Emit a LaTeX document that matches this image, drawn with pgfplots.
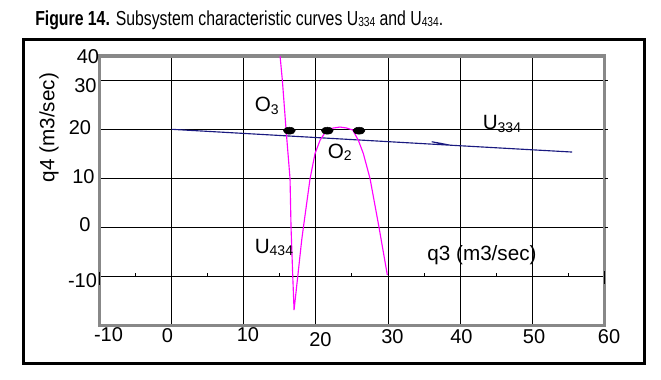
\documentclass[border=0pt]{standalone}
\usepackage{pgfplots}
\pgfplotsset{compat=1.18}
\usepackage{fontspec}
\setmainfont{Liberation Sans}
\usepackage{graphicx}

\definecolor{magentaC}{HTML}{FF00FF}
\definecolor{navyC}{HTML}{1A1A80}
\definecolor{boxgray}{HTML}{888888}

\newcommand\lbl{\fontsize{15.5}{18}\selectfont}
\newcommand\tck{\fontsize{15}{18}\selectfont}
\newcommand\sbs[1]{\raisebox{-2.2pt}{\fontsize{10.5}{12}\selectfont #1}}
\newcommand\tsb[1]{\raisebox{-0.8pt}{\fontsize{9.8}{11}\selectfont #1}}

\begin{document}
\begin{tikzpicture}
\begin{axis}[
  scale only axis, width=378.75pt, height=202.125pt,
  xmin=-10, xmax=60, ymin=-20, ymax=35,
  xtick={0,10,...,50}, ytick={-10,0,...,30},
  xticklabels={}, yticklabels={},
  major tick length=0pt,
  grid=major, grid style={black, line width=0.75pt},
  axis line style={boxgray, line width=2.4pt},
  clip=false,
]
% U334
\addplot[navyC, line width=0.85pt] coordinates {(0,20.04) (38.6,16.8) (36.05,17.5) (37.2,17.2) (38.6,16.8) (55.5,15.4)};
% U434
\addplot[magentaC, line width=0.85pt] coordinates {
(15.03,35) (15.35,30) (15.86,20) (16.41,10) (16.55,0) (16.79,-10) (16.97,-16.84)
(17.48,-10) (18.03,-2.55) (18.26,0) (19.19,10) (19.88,15.1) (20.57,17.8) (21.5,19.9)
(22.41,20.3) (23.35,20.5) (24.27,20.3) (25.1,19.9) (25.88,17.8) (26.57,15.1)
(27.5,10) (28.75,0) (29.9,-9.7)};
% operating points
\addplot[only marks, mark=*, mark size=2.6pt, mark options={xscale=1.7, fill=black, draw=black}] coordinates {(16.32,19.76) (21.58,19.76) (25.98,19.76)};
\end{axis}
\begin{scope}[x=0.75pt,y=-0.75pt,shift={(-99.5,-325.5)}]
\useasboundingbox (0,0) rectangle (661,379);
% outer frame
\draw[black, line width=2.6pt] (23.5,39.5) rectangle (644.5,363.5);
% title
\node[anchor=base west, inner sep=0pt] at (35,25.5) {\fontsize{15.2}{18}\selectfont\scalebox{0.78}[1]{\textbf{Figure 14.} Subsystem characteristic curves U\tsb{334} and U\tsb{434}.}};
% small ticks on the q3 axis
\foreach \xv in {-5,5,...,55} {\draw[black, line width=0.75pt] ({171.6+\xv*7.214},276.5) -- ({171.6+\xv*7.214},272.5);}
\draw[black, line width=0.75pt] (100,271.7) -- (100,285);
\draw[black, line width=0.75pt] (604.5,271) -- (604.5,284);
\foreach \yv in {80.5,129.5,178.5,227.5} {\draw[black, line width=0.75pt] (604.5,\yv) -- (608,\yv);}
% y ticks
\node[inner sep=0pt] at (88,56.5) {\tck 40};
\node[inner sep=0pt] at (85.5,85.5) {\tck 30};
\node[inner sep=0pt] at (80,128) {\tck 20};
\node[inner sep=0pt] at (83.5,177) {\tck 10};
\node[inner sep=0pt] at (85,225) {\tck 0};
\node[inner sep=0pt] at (82.5,281) {\tck -10};
% x ticks
\node[inner sep=0pt] at (108.5,334.5) {\tck -10};
\node[inner sep=0pt] at (167.5,336) {\tck 0};
\node[inner sep=0pt] at (248,335) {\tck 10};
\node[inner sep=0pt] at (320.5,340) {\tck 20};
\node[inner sep=0pt] at (392.5,336.5) {\tck 30};
\node[inner sep=0pt] at (461.5,337) {\tck 40};
\node[inner sep=0pt] at (534,337) {\tck 50};
\node[inner sep=0pt] at (609,337) {\tck 60};
% axis labels
\node[inner sep=0pt, rotate=90] at (49,127.5) {\lbl q4 (m3/sec)};
\node[inner sep=0pt] at (482,255.5) {\lbl q3 (m3/sec)};
% curve labels
\node[anchor=base west, inner sep=0pt] at (254.5,111.7) {\lbl O\sbs{3}};
\node[anchor=base west, inner sep=0pt] at (327.5,158) {\lbl O\sbs{2}};
\node[anchor=base west, inner sep=0pt] at (482.5,130) {\lbl U\sbs{334}};
\node[anchor=base west, inner sep=0pt] at (254.5,253) {\lbl U\sbs{434}};
\end{scope}
\end{tikzpicture}
\end{document}
